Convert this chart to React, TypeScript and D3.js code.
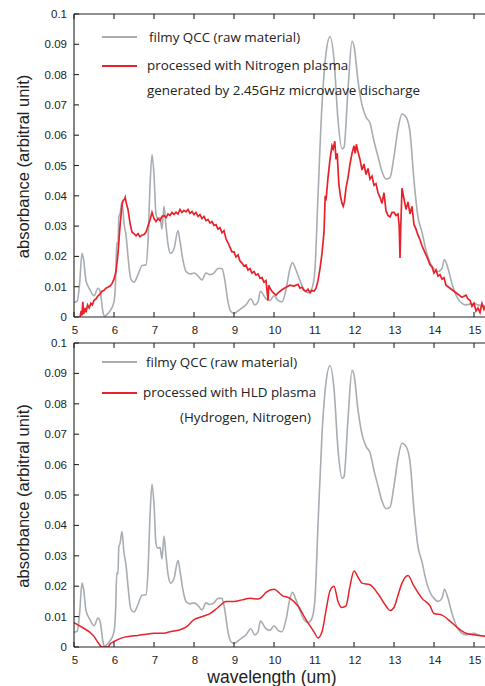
import { useEffect, useRef } from 'react'
import * as d3 from 'd3'

// filmy QCC (raw material) – same spectrum in both panels
const rawWave = [5.0,5.08,5.14,5.2,5.24,5.3,5.4,5.5,5.6,5.66,5.72,5.76,5.82,5.9,6.0,6.04,6.07,6.1,6.12,6.15,6.2,6.25,6.3,6.35,6.42,6.5,6.6,6.7,6.8,6.85,6.9,6.95,7.0,7.05,7.1,7.15,7.2,7.25,7.3,7.35,7.42,7.5,7.6,7.65,7.72,7.8,7.9,8.0,8.1,8.2,8.3,8.4,8.5,8.6,8.7,8.76,8.85,8.92,9.0,9.1,9.2,9.3,9.42,9.52,9.6,9.66,9.8,9.9,10.0,10.1,10.2,10.3,10.4,10.46,10.55,10.65,10.75,10.85,10.95,11.02,11.1,11.2,11.3,11.4,11.5,11.6,11.7,11.75,11.85,11.95,12.0,12.1,12.2,12.3,12.4,12.5,12.6,12.7,12.8,12.9,13.0,13.1,13.2,13.3,13.4,13.5,13.6,13.7,13.8,13.9,14.0,14.1,14.2,14.26,14.35,14.45,14.6,14.8,15.0,15.1,15.3]
const rawAbs = [0.0048,0.0052,0.011,0.021,0.019,0.012,0.009,0.007,0.0095,0.008,0.002,0.0002,0.0008,0.002,0.005,0.012,0.0245,0.024,0.033,0.034,0.038,0.031,0.027,0.02,0.0125,0.0115,0.014,0.017,0.0172,0.025,0.043,0.0535,0.047,0.034,0.0325,0.0328,0.029,0.0365,0.03,0.024,0.021,0.0225,0.0285,0.025,0.019,0.015,0.0142,0.0145,0.0136,0.0122,0.0145,0.014,0.0145,0.016,0.016,0.013,0.005,0.0018,0.0012,0.002,0.003,0.004,0.006,0.004,0.005,0.0085,0.006,0.0055,0.007,0.0055,0.005,0.009,0.016,0.018,0.0155,0.012,0.009,0.008,0.0095,0.015,0.04,0.07,0.087,0.0925,0.085,0.065,0.0555,0.056,0.075,0.091,0.0895,0.078,0.07,0.066,0.064,0.058,0.053,0.048,0.0455,0.046,0.053,0.062,0.067,0.066,0.061,0.045,0.033,0.028,0.022,0.018,0.016,0.015,0.016,0.019,0.016,0.011,0.006,0.004,0.0045,0.004,0.0035]

// processed with Nitrogen plasma (2.45GHz microwave)
const n2Wave = [5.15,5.18,5.2,5.22,5.24,5.28,5.3,5.34,5.38,5.42,5.46,5.5,5.55,5.6,5.65,5.7,5.75,5.8,5.85,5.9,5.95,6.0,6.05,6.1,6.15,6.2,6.23,6.26,6.28,6.3,6.35,6.4,6.45,6.5,6.55,6.6,6.65,6.7,6.75,6.8,6.85,6.9,6.95,7.0,7.05,7.1,7.15,7.2,7.25,7.3,7.35,7.4,7.45,7.5,7.55,7.6,7.65,7.7,7.75,7.8,7.85,7.9,7.95,8.0,8.05,8.1,8.15,8.2,8.25,8.3,8.35,8.4,8.45,8.5,8.55,8.6,8.65,8.7,8.75,8.8,8.85,8.9,8.95,9.0,9.05,9.1,9.15,9.2,9.25,9.3,9.35,9.4,9.45,9.5,9.55,9.6,9.65,9.7,9.75,9.8,9.85,9.87,9.9,9.95,10.0,10.05,10.1,10.15,10.2,10.3,10.4,10.5,10.6,10.65,10.7,10.75,10.8,10.85,10.9,10.95,11.0,11.05,11.1,11.15,11.2,11.25,11.28,11.3,11.35,11.4,11.45,11.48,11.52,11.55,11.58,11.62,11.66,11.7,11.73,11.76,11.8,11.85,11.9,11.95,12.0,12.03,12.06,12.1,12.15,12.2,12.25,12.3,12.35,12.4,12.45,12.5,12.55,12.6,12.65,12.7,12.75,12.8,12.85,12.9,12.95,13.0,13.05,13.1,13.13,13.15,13.17,13.2,13.25,13.3,13.35,13.4,13.45,13.5,13.55,13.6,13.65,13.7,13.75,13.8,13.85,13.9,13.95,14.0,14.05,14.1,14.15,14.2,14.25,14.3,14.4,14.5,14.6,14.7,14.8,14.85,14.9,14.95,15.0,15.05,15.1,15.15,15.2,15.25,15.3]
const n2Abs = [0.0,0.002,0.0005,0.005,0.001,0.003,0.0015,0.004,0.003,0.0045,0.004,0.0055,0.006,0.007,0.0075,0.0085,0.0088,0.0095,0.0098,0.0102,0.011,0.0125,0.015,0.021,0.03,0.037,0.0385,0.0388,0.0395,0.038,0.0355,0.031,0.028,0.0275,0.0268,0.0275,0.0265,0.027,0.0272,0.028,0.03,0.032,0.0345,0.0325,0.0315,0.0325,0.0318,0.0332,0.0335,0.0328,0.034,0.0335,0.0345,0.0338,0.0346,0.034,0.0355,0.0345,0.0352,0.0347,0.0355,0.0342,0.0348,0.0338,0.0345,0.0332,0.0338,0.0325,0.0332,0.0318,0.0322,0.031,0.0315,0.0302,0.0305,0.029,0.0295,0.0278,0.0285,0.0258,0.0245,0.023,0.0215,0.0215,0.0198,0.0205,0.0185,0.0178,0.0168,0.0172,0.0155,0.016,0.0145,0.015,0.0138,0.0142,0.0128,0.013,0.0115,0.012,0.0055,0.0105,0.0095,0.0085,0.0078,0.0072,0.008,0.0085,0.009,0.0098,0.0105,0.0102,0.0108,0.0095,0.0098,0.0088,0.0085,0.0092,0.008,0.0088,0.0085,0.0095,0.012,0.016,0.021,0.028,0.04,0.0385,0.046,0.052,0.0565,0.0555,0.058,0.052,0.054,0.044,0.04,0.0375,0.0365,0.038,0.0425,0.046,0.0505,0.054,0.0565,0.054,0.057,0.0545,0.052,0.0485,0.0505,0.047,0.049,0.0455,0.0465,0.0435,0.044,0.041,0.0395,0.0375,0.041,0.035,0.0335,0.033,0.0345,0.0345,0.0335,0.034,0.03,0.0195,0.03,0.0425,0.039,0.0355,0.038,0.034,0.0365,0.0305,0.029,0.027,0.0255,0.0235,0.022,0.0205,0.019,0.0172,0.0165,0.0145,0.0155,0.0135,0.014,0.0125,0.013,0.0105,0.0095,0.0085,0.0075,0.0065,0.0072,0.006,0.0055,0.0035,0.0045,0.002,0.003,0.0015,0.0045,0.0025,0.004]

// processed with HLD plasma (Hydrogen, Nitrogen)
const hldWave = [5.0,5.2,5.4,5.5,5.6,5.7,5.85,5.9,6.0,6.2,6.4,6.6,6.8,7.0,7.2,7.4,7.6,7.8,8.0,8.2,8.4,8.6,8.8,9.0,9.2,9.4,9.6,9.7,9.8,10.0,10.2,10.4,10.6,10.8,11.0,11.1,11.2,11.3,11.4,11.5,11.6,11.7,11.8,11.9,12.0,12.1,12.2,12.4,12.6,12.8,12.9,13.0,13.1,13.2,13.35,13.5,13.7,13.9,14.0,14.2,14.4,14.6,14.8,15.0,15.3]
const hldAbs = [0.008,0.0065,0.0048,0.0035,0.0015,0.0,0.0,0.001,0.0018,0.003,0.0035,0.0038,0.0042,0.0045,0.0045,0.005,0.0055,0.0065,0.009,0.01,0.011,0.013,0.015,0.015,0.0155,0.016,0.0158,0.0165,0.018,0.019,0.017,0.016,0.0135,0.009,0.005,0.003,0.005,0.012,0.0185,0.02,0.015,0.013,0.0135,0.02,0.025,0.023,0.021,0.0205,0.0175,0.0135,0.012,0.013,0.017,0.021,0.0235,0.02,0.016,0.0135,0.011,0.0105,0.0085,0.0062,0.0045,0.004,0.0035]

const xTicks = [5,6,7,8,9,10,11,12,13,14,15]
const yTicks = [0,0.01,0.02,0.03,0.04,0.05,0.06,0.07,0.08,0.09,0.1]
const GRAY='#a7adb3', RED='#e8222a'

type P = { top:number, bottom:number, red:number[][], legend:string[], legendY:number[], legendX:number[] }

export default function App() {
  const ref=useRef<SVGSVGElement>(null)
  useEffect(() => {
    const svg=d3.select(ref.current)
    svg.selectAll('*').remove()
    const W=485, L=74
    const x=d3.scaleLinear().domain([5,15]).range([L,L+400])
    const tickF='"Liberation Sans", Arial, sans-serif'
    const legF='"Open Sans", "Noto Sans", sans-serif'
    const raw=rawWave.map((w,i)=>[w,rawAbs[i]])
    const panels:P[]=[
      { top:14, bottom:317, red:n2Wave.map((w,i)=>[w,n2Abs[i]]),
        legend:['filmy QCC (raw material)','processed with Nitrogen plasma','generated by 2.45GHz microwave discharge'],
        legendY:[42,70,95], legendX:[149,147,147] },
      { top:343, bottom:647, red:hldWave.map((w,i)=>[w,hldAbs[i]]),
        legend:['filmy QCC (raw material)','processed with HLD plasma','(Hydrogen, Nitrogen)'],
        legendY:[367,397,422], legendX:[146,143,180] },
    ]
    panels.forEach((p,k)=>{
      const y=d3.scaleLinear().domain([0,0.1]).range([p.bottom,p.top])
      const g=svg.append('g')
      svg.append('clipPath').attr('id','clip'+k).append('rect')
        .attr('x',L).attr('y',p.top).attr('width',W-L).attr('height',p.bottom-p.top)
      const lines=g.append('g').attr('clip-path',`url(#clip${k})`)
      lines.append('path').attr('d',d3.line<number[]>().x(d=>x(d[0])).y(d=>y(d[1])).curve(d3.curveMonotoneX)(raw) as string)
        .attr('fill','none').attr('stroke',GRAY).attr('stroke-width',1.6)
      lines.append('path').attr('d',d3.line<number[]>().x(d=>x(d[0])).y(d=>y(d[1])).curve(k===0?d3.curveLinear:d3.curveMonotoneX)(p.red) as string)
        .attr('fill','none').attr('stroke',RED).attr('stroke-width',k===0?1.7:1.5)
      // frame
      const ax=g.append('g').attr('stroke','#222').attr('stroke-width',1.1)
      ax.append('line').attr('x1',L).attr('x2',W+2).attr('y1',p.top).attr('y2',p.top)
      ax.append('line').attr('x1',L).attr('x2',W+2).attr('y1',p.bottom).attr('y2',p.bottom)
      ax.append('line').attr('x1',L).attr('x2',L).attr('y1',p.top).attr('y2',p.bottom)
      xTicks.forEach(t=>{
        ax.append('line').attr('x1',x(t)).attr('x2',x(t)).attr('y1',p.top).attr('y2',p.top+5)
        ax.append('line').attr('x1',x(t)).attr('x2',x(t)).attr('y1',p.bottom).attr('y2',p.bottom-5)
        g.append('text').attr('x',x(t)+1).attr('y',p.bottom+17).attr('text-anchor','middle')
          .attr('font-family',tickF).attr('font-size',11.5).attr('fill','#222').text(String(t))
      })
      yTicks.forEach(t=>{
        ax.append('line').attr('x1',L).attr('x2',L+5).attr('y1',y(t)).attr('y2',y(t))
        g.append('text').attr('x',L-7).attr('y',y(t)+4).attr('text-anchor','end')
          .attr('font-family',tickF).attr('font-size',11.5).attr('fill','#222').text(String(t))
      })
      g.append('text').attr('transform',`translate(29,${(p.top+p.bottom)/2+1}) rotate(-90)`)
        .attr('text-anchor','middle').attr('font-family',tickF).attr('font-size',16.5).attr('fill','#222')
        .text('absorbance (arbitral unit)')
      // legend
      const ly=[p.legendY[0]-5,p.legendY[1]-4]
      g.append('line').attr('x1',L+28).attr('x2',L+63).attr('y1',ly[0]).attr('y2',ly[0]).attr('stroke',GRAY).attr('stroke-width',1.8)
      g.append('line').attr('x1',L+28).attr('x2',L+63).attr('y1',ly[1]).attr('y2',ly[1]).attr('stroke',RED).attr('stroke-width',1.8)
      p.legend.forEach((s,i)=>{
        g.append('text').attr('x',p.legendX[i]).attr('y',p.legendY[i]).attr('font-family',legF)
          .attr('font-size',13.4).attr('fill','#222').text(s)
      })
    })
    svg.append('text').attr('x',272).attr('y',683).attr('text-anchor','middle')
      .attr('font-family',tickF).attr('font-size',17.5).attr('fill','#222').text('wavelength (um)')
  },[])
  return <svg ref={ref} width={485} height={686} style={{ position:'absolute', left:0, top:0, background:'#fff' }} />
}
